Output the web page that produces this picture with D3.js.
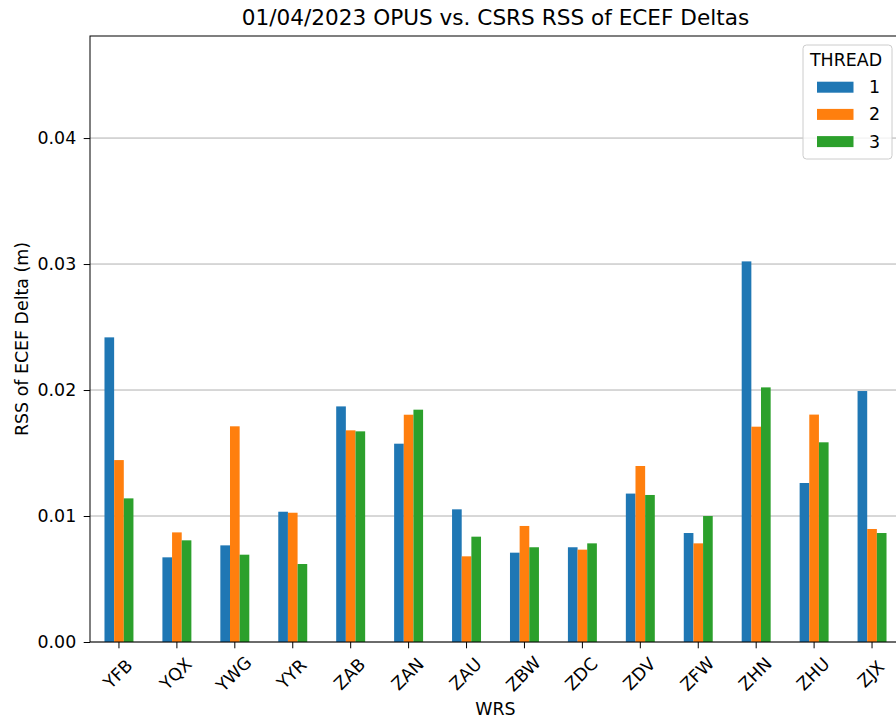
<!DOCTYPE html>
<html>
<head>
<meta charset="utf-8">
<script src="https://cdn.jsdelivr.net/npm/d3@7"></script>
<style>
  html, body { margin: 0; padding: 0; background: #fff; }
  svg { display: block; font-family: "DejaVu Sans", sans-serif; }
</style>
</head>
<body>
<svg id="chart" width="896" height="726"></svg>
<script>
const categories = ["YFB","YQX","YWG","YYR","ZAB","ZAN","ZAU","ZBW","ZDC","ZDV","ZFW","ZHN","ZHU","ZJX"];
const seriesNames = ["1","2","3"];
const thread1 = [0.02418,0.00672,0.00767,0.01034,0.01870,0.01574,0.01053,0.00709,0.00752,0.01178,0.00865,0.03021,0.01262,0.01992];
const thread2 = [0.01444,0.00870,0.01712,0.01026,0.01680,0.01804,0.00680,0.00921,0.00733,0.01397,0.00783,0.01709,0.01805,0.00897];
const thread3 = [0.01140,0.00807,0.00693,0.00619,0.01672,0.01844,0.00836,0.00752,0.00783,0.01167,0.01000,0.02021,0.01585,0.00865];
const yTicks = [0.00,0.01,0.02,0.03,0.04];
const colors = ["#1f77b4","#ff7f0e","#2ca02c"];

(function(){
const seriesValues = [thread1, thread2, thread3];
const svg = d3.select("#chart");
const mL = 90, mR = 901, mT = 36, mB = 642;
const fs = 17.4;

const x = d3.scaleBand().domain(categories).range([mL, mR]).padding(0);
const bw = x.bandwidth();
const xInner = d3.scaleBand().domain(seriesNames).range([bw*0.25, bw*0.75]).padding(0);
const y = d3.scaleLinear().domain([0, 0.04810]).range([mB, mT]);

// grid
svg.append("g").selectAll("line").data(yTicks).join("line")
  .attr("x1", mL).attr("x2", mR)
  .attr("y1", d => y(d)).attr("y2", d => y(d))
  .attr("stroke", "#b0b0b0").attr("stroke-width", 1);

// bars
const groups = svg.append("g").selectAll("g").data(seriesNames).join("g")
  .attr("fill", (d,i) => colors[i]);
groups.selectAll("rect").data((s,i) => categories.map((c,j) => ({c, s, v: seriesValues[i][j]})))
  .join("rect")
  .attr("x", d => x(d.c) + xInner(d.s))
  .attr("width", xInner.bandwidth())
  .attr("y", d => y(d.v))
  .attr("height", d => y(0) - y(d.v));

// axes
const yAxis = d3.axisLeft(y).tickValues(yTicks).tickFormat(d3.format(".2f")).tickSizeOuter(0).tickSize(6.3).tickPadding(7.5);
const gy = svg.append("g").attr("transform", `translate(${mL},0)`).call(yAxis);
gy.select(".domain").remove();
gy.selectAll("text").attr("font-size", fs).attr("font-family", "DejaVu Sans").attr("fill", "#000");
gy.selectAll("line").attr("stroke", "#000").attr("stroke-width", 1);

const xAxis = d3.axisBottom(x).tickSizeOuter(0).tickSize(6.3).tickPadding(7);
const gx = svg.append("g").attr("transform", `translate(0,${mB})`).call(xAxis);
gx.select(".domain").remove();
gx.selectAll("line").attr("stroke", "#000").attr("stroke-width", 1);
gx.selectAll("text")
  .attr("font-size", fs).attr("font-family", "DejaVu Sans").attr("fill", "#000")
  .attr("text-anchor", "middle").attr("dy", null).attr("y", 0)
  .attr("transform", "translate(-1,32) rotate(-45)")
  .attr("dominant-baseline", "central");

// spines
svg.append("rect").attr("x", mL).attr("y", mT).attr("width", mR-mL).attr("height", mB-mT)
  .attr("fill", "none").attr("stroke", "#000").attr("stroke-width", 1);

// title & labels
svg.append("text").attr("x", 495.5).attr("y", 25).attr("text-anchor", "middle")
  .attr("font-size", 21.6).text("01/04/2023 OPUS vs. CSRS RSS of ECEF Deltas");
svg.append("text").attr("x", (mL+mR)/2).attr("y", 715).attr("text-anchor", "middle")
  .attr("font-size", fs).text("WRS");
svg.append("text").attr("transform", `translate(28,${(mT+mB)/2}) rotate(-90)`).attr("text-anchor", "middle")
  .attr("font-size", fs).text("RSS of ECEF Delta (m)");

// legend
const lg = svg.append("g");
lg.append("rect").attr("x", 803).attr("y", 45).attr("width", 89).attr("height", 114).attr("rx", 3.5)
  .attr("fill", "#fff").attr("fill-opacity", 0.8).attr("stroke", "#cccccc").attr("stroke-width", 1);
lg.append("text").attr("x", 846).attr("y", 66).attr("text-anchor", "middle").attr("font-size", fs).text("THREAD");
seriesNames.forEach((s, i) => {
  const yy = 87.2 + i*27.2;
  lg.append("rect").attr("x", 817).attr("y", yy-5.5).attr("width", 36.5).attr("height", 11).attr("fill", colors[i]);
  lg.append("text").attr("x", 869).attr("y", yy+6).attr("font-size", fs).text(s);
});
})();
</script>
</body>
</html>
